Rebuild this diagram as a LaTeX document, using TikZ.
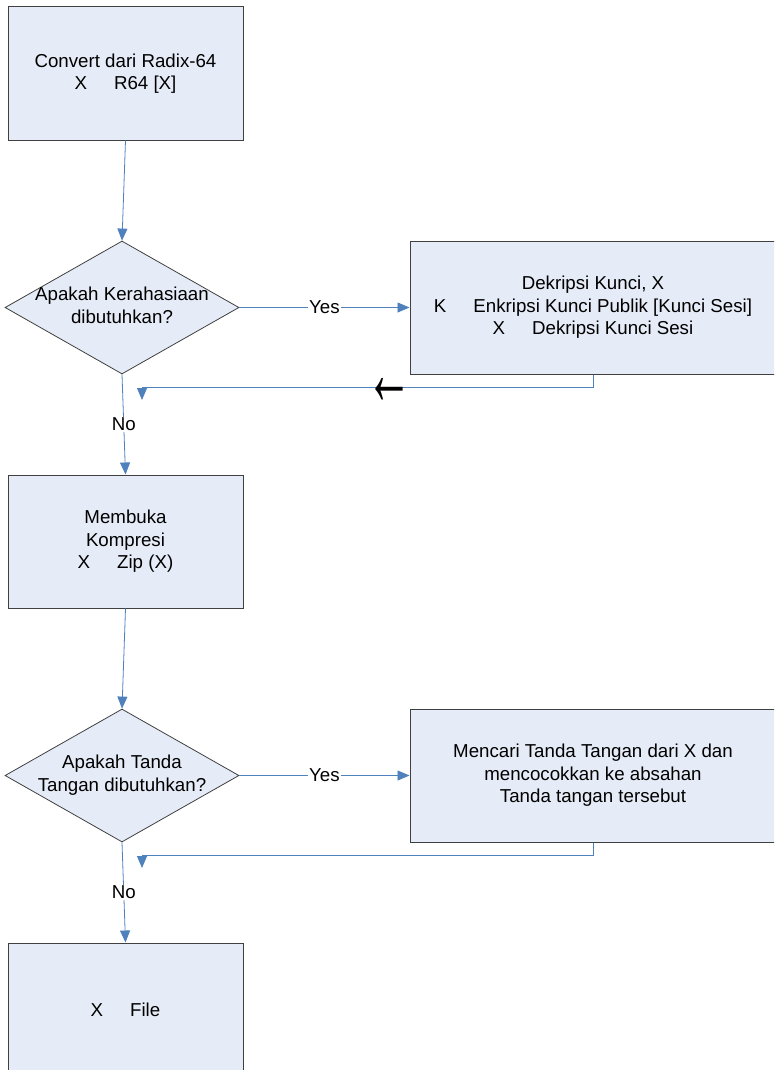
\documentclass[tikz,border=0pt]{standalone}
\usepackage{fontspec}
\setmainfont{Liberation Sans}
\usetikzlibrary{shapes.geometric,arrows.meta}
\definecolor{boxfill}{HTML}{E6ECF7}
\definecolor{boxline}{HTML}{404040}
\definecolor{flow}{HTML}{4F81BD}
\newcommand\sepgap{\hspace{27pt}}
\begin{document}
\begin{tikzpicture}[x=1pt,y=-1pt,
  every node/.style={font=\fontsize{18.7}{22.5}\selectfont},
  stepbox/.style={rectangle, draw=boxline, fill=boxfill, line width=1pt,
    minimum width=235pt, minimum height=133pt, inner sep=0pt, align=center},
  widebox/.style={stepbox, minimum width=366pt},
  choice/.style={diamond, draw=boxline, fill=boxfill, line width=0.8pt,
    minimum width=234pt, minimum height=133pt, inner sep=0pt},
  flowline/.style={draw=flow, line width=0.8pt,
    -{Triangle[width=10pt,length=12pt]}},
  tag/.style={fill=white, inner sep=1pt},
  backmark/.style={font=\fontsize{46}{46}\selectfont, inner sep=0pt}
]
\useasboundingbox (0,0) rectangle (774,1070);
\clip (0,0) rectangle (774,1070);

% process steps and decisions
\node[stepbox] (radix) at (125.5,73.5) {Convert dari Radix-64\\X\sepgap R64 [X]};
\node[choice] (secret) at (122,307.5)
  {\makebox[0pt]{\begin{tabular}{@{}c@{}}Apakah Kerahasiaan\\dibutuhkan?\end{tabular}}};
\node[widebox] (sesi) at (593,307.5)
  {Dekripsi Kunci, X\\K\sepgap Enkripsi Kunci Publik [Kunci Sesi]\\X\sepgap Dekripsi Kunci Sesi};
\node[stepbox] (unzip) at (125.5,541.5) {Membuka\\Kompresi\\X\sepgap Zip (X)};
\node[choice] (sign) at (122,775.5)
  {\makebox[0pt]{\begin{tabular}{@{}c@{}}Apakah Tanda\\Tangan dibutuhkan?\end{tabular}}};
\node[widebox] (verify) at (593,775.5)
  {Mencari Tanda Tangan dari X dan\\mencocokkan ke absahan\\Tanda tangan tersebut};
\node[stepbox] (file) at (125.5,1009.5) {X\sepgap File};

% free ends of the return lines
\coordinate (join1) at (142,400);
\coordinate (join2) at (142,868);

% connectors
\draw[flowline] (radix.south) -- (secret.north);
\draw[flowline] (secret.east) -- node[tag] {Yes} (sesi.west);
\draw[flowline] (secret.south) -- node[tag] {No} (unzip.north);
\draw[flowline] (sesi.south) -- ++(0,13) -| (join1);
\node[backmark] (back) at (389.5,391.5) {\scalebox{1}[2]{←}};
\draw[flowline] (unzip.south) -- (sign.north);
\draw[flowline] (sign.east) -- node[tag] {Yes} (verify.west);
\draw[flowline] (sign.south) -- node[tag] {No} (file.north);
\draw[flowline] (verify.south) -- ++(0,13) -| (join2);
\end{tikzpicture}
\end{document}
